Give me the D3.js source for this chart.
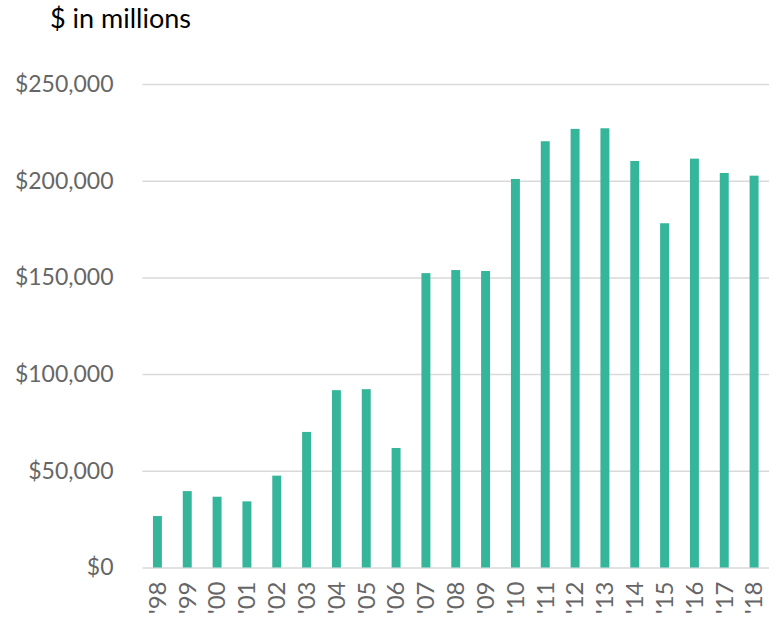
<!DOCTYPE html>
<html>
<head>
<meta charset="utf-8">
<script src="https://cdn.jsdelivr.net/npm/d3@7"></script>
<style>
  body { margin: 0; background: #fff; }
  svg text { font-family: "Lato", "DejaVu Sans", sans-serif; }
</style>
</head>
<body>
<svg class="chart"></svg>
<script>
// data
const years = ["'98", "'99", "'00", "'01", "'02", "'03", "'04", "'05", "'06", "'07",
               "'08", "'09", "'10", "'11", "'12", "'13", "'14", "'15", "'16", "'17", "'18"];
const amounts = [26600, 39500, 36600, 34200, 47500, 70100, 91700, 92200, 61800, 152200,
                 153800, 153300, 200900, 220400, 226800, 227100, 210200, 178000, 211400, 204000, 202600];
const yTicks = [0, 50000, 100000, 150000, 200000, 250000];

const width = 782, height = 620;
const plotLeft = 142.5, plotRight = 769, plotTop = 84, plotBottom = 567.5;

const data = years.map((y, i) => ({ year: y, amount: amounts[i] }));

const svg = d3.select(".chart")
    .attr("width", width)
    .attr("height", height);

// x is a band per year, y converts dollars to pixels
const x = d3.scaleBand()
    .domain(years)
    .range([plotLeft, plotRight])
    .paddingInner(0.7)
    .paddingOuter(0.35);

const y = d3.scaleLinear()
    .domain([0, 250000])
    .range([plotBottom, plotTop]);

// gridlines + y labels
const yAxis = d3.axisLeft(y)
    .tickValues(yTicks)
    .tickSize(-(plotRight - plotLeft))
    .tickPadding(29)
    .tickFormat(d => "$" + d3.format(",")(d));

svg.append("g")
    .attr("transform", `translate(${plotLeft},0)`)
    .call(yAxis)
    .call(g => g.select(".domain").remove())
    .call(g => g.selectAll(".tick line").attr("stroke", "#d9d9d9").attr("stroke-width", 1.5))
    .call(g => g.selectAll(".tick text")
        .attr("fill", "#666")
        .style("font-size", "23px"));

// bars
svg.append("g").selectAll("rect")
    .data(data)
    .enter().append("rect")
    .attr("x", d => x(d.year))
    .attr("width", x.bandwidth())
    .attr("y", d => y(d.amount))
    .attr("height", d => y(0) - y(d.amount))
    .attr("fill", "#35b59a");

// x labels, rotated
const xAxis = d3.axisBottom(x).tickSize(0).tickPadding(0);
svg.append("g")
    .attr("transform", `translate(0,${plotBottom})`)
    .call(xAxis)
    .call(g => g.select(".domain").remove())
    .call(g => g.selectAll(".tick text")
        .attr("fill", "#666")
        .style("font-size", "24px")
        .attr("transform", "rotate(-90)")
        .attr("text-anchor", "end")
        .attr("dy", "0.35em")
        .attr("x", -14)
        .attr("y", 0));

// title
svg.append("text")
    .attr("x", 50)
    .attr("y", 28)
    .attr("fill", "#000")
    .style("font-size", "27px")
    .text("$ in millions");
</script>
</body>
</html>
